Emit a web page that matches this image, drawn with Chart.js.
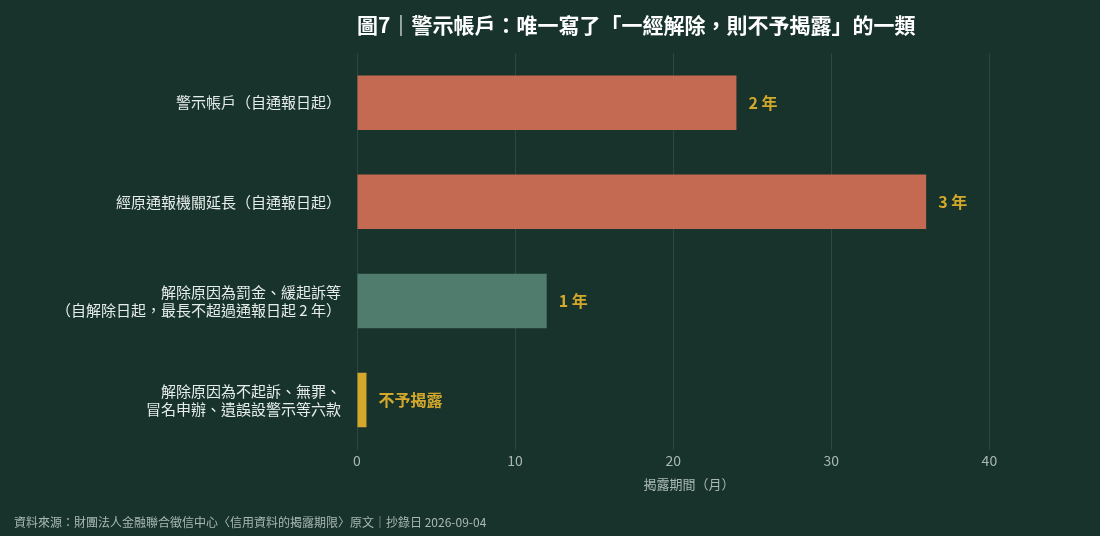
<!DOCTYPE html>
<html><head><meta charset="utf-8">
<script src="https://cdn.jsdelivr.net/npm/chart.js@4"></script>
<style>html,body{margin:0;padding:0;background:#17332c;}#w{width:1100px;height:536px;position:relative}</style>
</head><body><div id="w"><canvas id="c"></canvas></div>
<script>
const categories = [
  ["警示帳戶（自通報日起）"],
  ["經原通報機關延長（自通報日起）"],
  ["解除原因為罰金、緩起訴等","（自解除日起，最長不超過通報日起 2 年）"],
  ["解除原因為不起訴、無罪、","冒名申辦、遺誤設警示等六款"]
];
const months = [24, 36, 12, 0.6];
const valueLabels = ["2 年", "3 年", "1 年", "不予揭露"];
const barColors = ["#c56a52", "#c56a52", "#4f7c6c", "#d4a82a"];
const titleText = "圖7｜警示帳戶：唯一寫了「一經解除，則不予揭露」的一類";
const sourceText = "資料來源：財團法人金融聯合徵信中心〈信用資料的揭露期限〉原文｜抄錄日 2026-09-04";
const FONT = "'Noto Sans CJK TC','Noto Sans',sans-serif";

const extras = {
  id: 'extras',
  afterDatasetsDraw(chart) {
    const ctx = chart.ctx;
    const meta = chart.getDatasetMeta(0);
    ctx.save();
    ctx.font = "bold 16px " + FONT;
    ctx.fillStyle = "#d4a82a";
    ctx.textBaseline = "middle";
    meta.data.forEach((b, i) => { ctx.fillText(valueLabels[i], b.x + 12, b.y); });
    ctx.font = "12px " + FONT;
    ctx.fillStyle = "#a9b8b2";
    ctx.textBaseline = "alphabetic";
    ctx.fillText(sourceText, 14, 527);
    ctx.restore();
  }
};

new Chart(document.getElementById('c'), {
  type: 'bar',
  data: { labels: categories, datasets: [{ data: months, backgroundColor: barColors, barPercentage: 0.55, categoryPercentage: 1 }] },
  options: {
    indexAxis: 'y', responsive: true, maintainAspectRatio: false, animation: false,
    layout: { padding: { left: 10, right: 79, top: 0, bottom: 40 } },
    plugins: {
      legend: { display: false }, tooltip: { enabled: false },
      title: { display: true, fullSize: false, align: 'start', text: titleText, color: "#ffffff", font: { family: FONT, size: 21, weight: 'bold' }, padding: { top: 12, bottom: 16 } }
    },
    scales: {
      x: { min: 0, max: 42, ticks: { stepSize: 10, color: "#a9b8b2", font: { family: FONT, size: 14 }, callback: v => v % 10 === 0 ? v : '' },
           grid: { color: c => (c.tick && c.tick.value % 10 === 0) ? "rgba(255,255,255,0.1)" : "rgba(0,0,0,0)", drawTicks: false }, border: { display: false },
           title: { display: true, text: "揭露期間（月）", color: "#a9b8b2", font: { family: FONT, size: 13 }, padding: { top: 4 } } },
      y: { afterFit: s => { s.width = 347; }, ticks: { color: "#e6ece9", font: { family: FONT, size: 15 }, padding: 8 }, grid: { display: false }, border: { display: false } }
    }
  },
  plugins: [extras]
});
</script></body></html>
